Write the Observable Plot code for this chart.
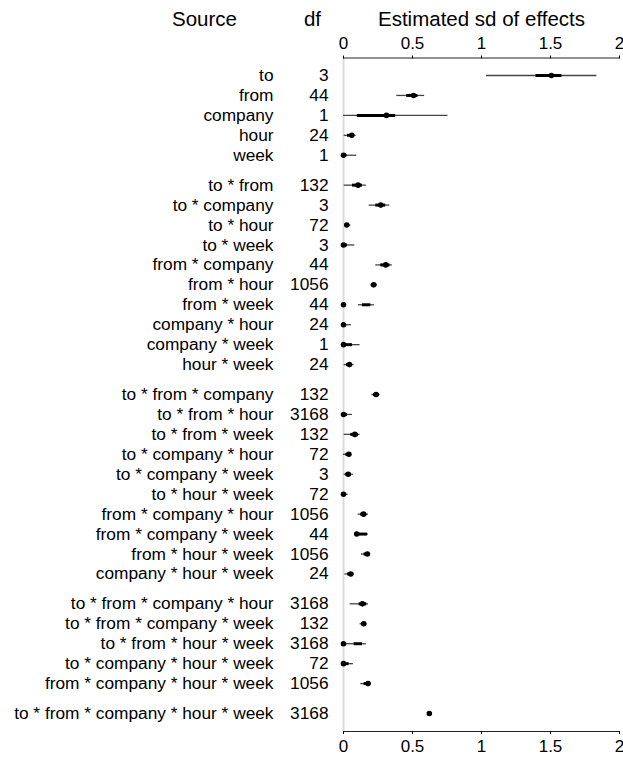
<!DOCTYPE html>
<html>
<head>
<meta charset="utf-8">
<script src="https://cdn.jsdelivr.net/npm/d3@7"></script>
<script src="https://cdn.jsdelivr.net/npm/@observablehq/plot@0.6"></script>
<style>
  html, body { margin: 0; padding: 0; background: #fff; }
  #chart svg { display: block; }
</style>
</head>
<body>
<div id="chart"></div>
<script>
// Sources of variation (ANOVA display), their degrees of freedom,
// and posterior summaries of the estimated sd of effects.
const sources = [
  "to", "from", "company", "hour", "week",
  "to * from", "to * company", "to * hour", "to * week", "from * company",
  "from * hour", "from * week", "company * hour", "company * week", "hour * week",
  "to * from * company", "to * from * hour", "to * from * week", "to * company * hour",
  "to * company * week", "to * hour * week", "from * company * hour",
  "from * company * week", "from * hour * week", "company * hour * week",
  "to * from * company * hour", "to * from * company * week", "to * from * hour * week",
  "to * company * hour * week", "from * company * hour * week",
  "to * from * company * hour * week"
];
const dfs = [3, 44, 1, 24, 1, 132, 3, 72, 3, 44, 1056, 44, 24, 1, 24,
  132, 3168, 132, 72, 3, 72, 1056, 44, 1056, 24, 3168, 132, 3168, 72, 1056, 3168];
const estimate = [1.506, 0.508, 0.311, 0.060, 0.0,
  0.106, 0.270, 0.024, 0.0, 0.306, 0.219, 0.0, 0.0, 0.0, 0.043,
  0.236, 0.0, 0.082, 0.039, 0.034, 0.0, 0.145, 0.096, 0.173, 0.053,
  0.137, 0.147, 0.0, 0.0, 0.178, 0.622];
const lo95 = [1.036, 0.386, 0.0, 0.005, 0.0,
  0.005, 0.186, 0.010, 0.0, 0.234, 0.198, 0.108, 0.0, 0.0, 0.005,
  0.205, 0.0, 0.005, 0.0, 0.005, 0.0, 0.106, 0.089, 0.130, 0.010,
  0.048, 0.120, 0.0, 0.0, 0.125, 0.617];
const hi95 = [1.836, 0.588, 0.757, 0.092, 0.096,
  0.166, 0.335, 0.053, 0.082, 0.354, 0.246, 0.224, 0.058, 0.120, 0.077,
  0.265, 0.065, 0.120, 0.060, 0.072, 0.034, 0.181, 0.181, 0.193, 0.077,
  0.181, 0.169, 0.166, 0.072, 0.202, 0.627];
const lo50 = [1.395, 0.458, 0.100, 0.030, 0.0,
  0.065, 0.234, 0.014, 0.0, 0.270, 0.202, 0.137, 0.0, 0.0, 0.022,
  0.217, 0.0, 0.053, 0.017, 0.017, 0.0, 0.125, 0.113, 0.149, 0.030,
  0.113, 0.130, 0.077, 0.0, 0.149, 0.620];
const hi50 = [1.583, 0.540, 0.378, 0.077, 0.025,
  0.137, 0.306, 0.041, 0.029, 0.337, 0.239, 0.198, 0.020, 0.065, 0.065,
  0.258, 0.029, 0.108, 0.053, 0.058, 0.010, 0.169, 0.174, 0.186, 0.070,
  0.169, 0.164, 0.137, 0.041, 0.193, 0.624];
const xTicks = [0, 0.5, 1, 1.5, 2];

// Build rows; interaction order (number of factors) gives the group gaps.
const rows = sources.map((s, i) => {
  const order = s.split(" * ").length;
  return {
    source: s, df: dfs[i], est: estimate[i],
    lo95: lo95[i], hi95: hi95[i], lo50: lo50[i], hi50: hi50[i],
    pos: i + 0.5 * (order - 1)
  };
});

const font = "'Liberation Sans', Arial, Helvetica, sans-serif";
const fmt = d => String(d);

const chart = Plot.plot({
  width: 623,
  height: 757,
  marginLeft: 343,
  marginRight: 4,
  marginTop: 57.5,
  marginBottom: 26,
  style: {fontFamily: font, fontSize: "17px", color: "#000", background: "#fff"},
  x: {domain: [0, 2], ticks: xTicks},
  y: {domain: [0, 32], range: [75, 713], axis: null},
  marks: [
    Plot.ruleX([0], {stroke: "#dcdcdc", strokeWidth: 2}),
    Plot.frame({anchor: "top", stroke: "#222"}),
    Plot.frame({anchor: "bottom", stroke: "#222"}),
    Plot.axisX(xTicks, {anchor: "top", tickSize: 3, tickPadding: 6, fontSize: 17, tickFormat: fmt, stroke: "#000"}),
    Plot.axisX(xTicks, {anchor: "bottom", tickSize: 3, tickPadding: 5.5, fontSize: 17, tickFormat: fmt, stroke: "#000"}),
    Plot.ruleY(rows, {y: "pos", x1: "lo95", x2: "hi95", stroke: "#444", strokeWidth: 1.3}),
    Plot.ruleY(rows, {y: "pos", x1: "lo50", x2: "hi50", stroke: "#000", strokeWidth: 3}),
    Plot.dot(rows, {x: "est", y: "pos", r: 2.8, fill: "#000"}),
    Plot.text(rows, {y: "pos", text: "source", frameAnchor: "left", dx: -70, textAnchor: "end", fontSize: 17.3}),
    Plot.text(rows, {y: "pos", text: d => String(d.df), frameAnchor: "left", dx: -15, textAnchor: "end", fontSize: 17.3}),
    Plot.text(["Estimated sd of effects"], {frameAnchor: "top", dy: -32.5, lineAnchor: "bottom", fontSize: 20.5}),
    Plot.text(["Source"], {frameAnchor: "top-left", dx: -139, dy: -32.5, lineAnchor: "bottom", textAnchor: "middle", fontSize: 20.5}),
    Plot.text(["df"], {frameAnchor: "top-left", dx: -31, dy: -32.5, lineAnchor: "bottom", textAnchor: "middle", fontSize: 20.5})
  ]
});
document.getElementById("chart").appendChild(chart);
</script>
</body>
</html>
